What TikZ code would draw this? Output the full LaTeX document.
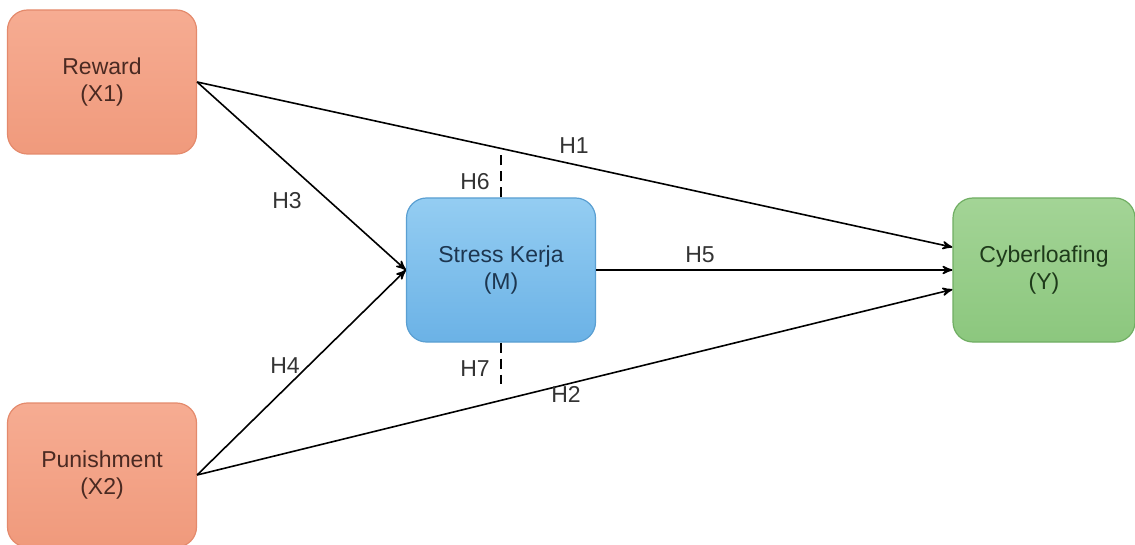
\documentclass[tikz,border=0pt]{standalone}
\usepackage{fontspec}
\setmainfont{Liberation Sans}
\usepackage{xcolor}
\usepackage{tikz}
\usetikzlibrary{arrows, shapes}

\definecolor{redtop}{HTML}{F6AC92}
\definecolor{redbot}{HTML}{F09A7C}
\definecolor{redline}{HTML}{E48A6C}
\definecolor{redtext}{HTML}{4A2A22}
\definecolor{bluetop}{HTML}{94CDF2}
\definecolor{bluebot}{HTML}{6BB2E6}
\definecolor{blueline}{HTML}{5A9FD2}
\definecolor{bluetext}{HTML}{1D3650}
\definecolor{greentop}{HTML}{A3D496}
\definecolor{greenbot}{HTML}{8CC77E}
\definecolor{greenline}{HTML}{70AE63}
\definecolor{greentext}{HTML}{1E3A1A}

\begin{document}
\begin{tikzpicture}[x=0.5pt,y=-0.5pt]
		\tikzstyle{every node} = [font = \fontsize{11.5}{13.5}\selectfont]
		\tikzstyle{varbox} = [rectangle, rounded corners=10pt, minimum width=94.5pt, minimum height=72pt, align=center, line width=0.6pt]
		\tikzstyle{indep} = [varbox, draw=redline, top color=redtop, bottom color=redbot, text=redtext]
		\tikzstyle{med} = [varbox, draw=blueline, top color=bluetop, bottom color=bluebot, text=bluetext]
		\tikzstyle{dep} = [varbox, minimum width=91pt, draw=greenline, top color=greentop, bottom color=greenbot, text=greentext]
		\tikzstyle{hyp} = [text=black!80]
		\useasboundingbox (0,0) rectangle (1135,545);
			% variables
			\node[indep] (reward) at (102,82) {Reward\\(X1)};
			\node[indep] (punish) at (102,475) {Punishment\\(X2)};
			\node[med] (stress) at (501,270) {Stress Kerja\\(M)};
			\node[dep] (cyber) at (1044,270) {Cyberloafing\\(Y)};
			% paths
			\path[draw,->,>=stealth',line width=0.8pt](reward.east)--(cyber.166);
			\path[draw,->,>=stealth',line width=0.8pt](punish.east)--(cyber.192);
			\path[draw,->,>=stealth',line width=0.8pt](reward.east)--(stress.west);
			\path[draw,->,>=stealth',line width=0.8pt](punish.east)--(stress.west);
			\path[draw,->,>=stealth',line width=0.8pt](stress.east)--(cyber.west);
			% moderation marks
			\coordinate (m6) at (501,150);
			\coordinate (m7) at (501,384);
			\path[draw,dash pattern=on 5pt off 3pt,line width=0.8pt](stress.north)--(m6);
			\path[draw,dash pattern=on 5pt off 3pt,line width=0.8pt](stress.south)--(m7);
			% labels
			\node[hyp] (h1) at (574,146) {H1};
			\node[hyp] (h2) at (566,394) {H2};
			\node[hyp] (h3) at (287,201) {H3};
			\node[hyp] (h4) at (285,366) {H4};
			\node[hyp] (h5) at (700,255) {H5};
			\node[hyp] (h6) at (475,182) {H6};
			\node[hyp] (h7) at (475,369) {H7};
\end{tikzpicture}
\end{document}
